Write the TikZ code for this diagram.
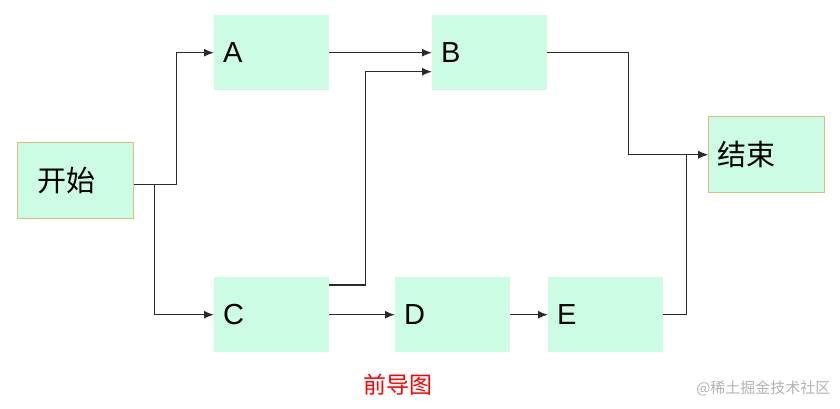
\documentclass[tikz,border=0pt]{standalone}
\usepackage{fontspec}
\setmainfont{Liberation Sans}
\newfontfamily\cjk{Noto Sans CJK SC}
\definecolor{boxfill}{HTML}{CCFCE4}
\definecolor{boxline}{HTML}{D2C27C}
\definecolor{wire}{HTML}{2A2A2A}
\usetikzlibrary{arrows.meta, calc, positioning}

\tikzset{
    task/.style={rectangle, fill=boxfill, minimum width=115pt, minimum height=75pt,
        text width=97pt, inner xsep=9pt, align=left, anchor=north west,
        font=\fontsize{29}{34}\selectfont},
    ends/.style={task, draw=boxline, line width=1.4pt, minimum width=116pt, minimum height=76pt,
        font=\cjk\fontsize{29}{34}\selectfont},
    link/.style={draw=wire, line width=1.5pt, -{Latex[length=10pt,width=8pt]}}
}

\begin{document}
\begin{tikzpicture}[x=1pt, y=-1pt]
    \useasboundingbox (0,0) rectangle (840,408);

    \node[ends, text width=76pt, inner xsep=20pt] (start) at (17,142) {开始};
    \node[task] (a) at (214,15) {A};
    \node[task] (b) at (432,15) {B};
    \node[ends, text width=98pt, inner xsep=9pt] (finish) at (708,116) {结束};
    \node[task] (c) at (214,277) {C};
    \node[task] (d) at (395,277) {D};
    \node[task] (e) at (548,277) {E};

    \draw[link] ([yshift=-4pt]start.east) -- ++(42,0) |- (a.west);
    \draw[link] ([yshift=-4pt]start.east) -- ++(20,0) |- (c.west);
    \draw[link] (a.east) -- (b.west);
    \draw[link] ([yshift=-8pt]c.north east) -- ++(36,0) |- ([yshift=-19pt]b.west);
    \draw[link] (b.east) -- ++(81,0) |- (finish.west);
    \draw[link] (c.east) -- (d.west);
    \draw[link] (d.east) -- (e.west);
    \draw[link] (e.east) -- ++(23,0) |- (finish.west);

    \node[red, font=\cjk\fontsize{23}{28}\selectfont] (caption) at (398,385) {前导图};
    \node[gray!60, font=\cjk\fontsize{15}{18}\selectfont, anchor=east] (mark) at (834,388) {@稀土掘金技术社区};
\end{tikzpicture}
\end{document}
